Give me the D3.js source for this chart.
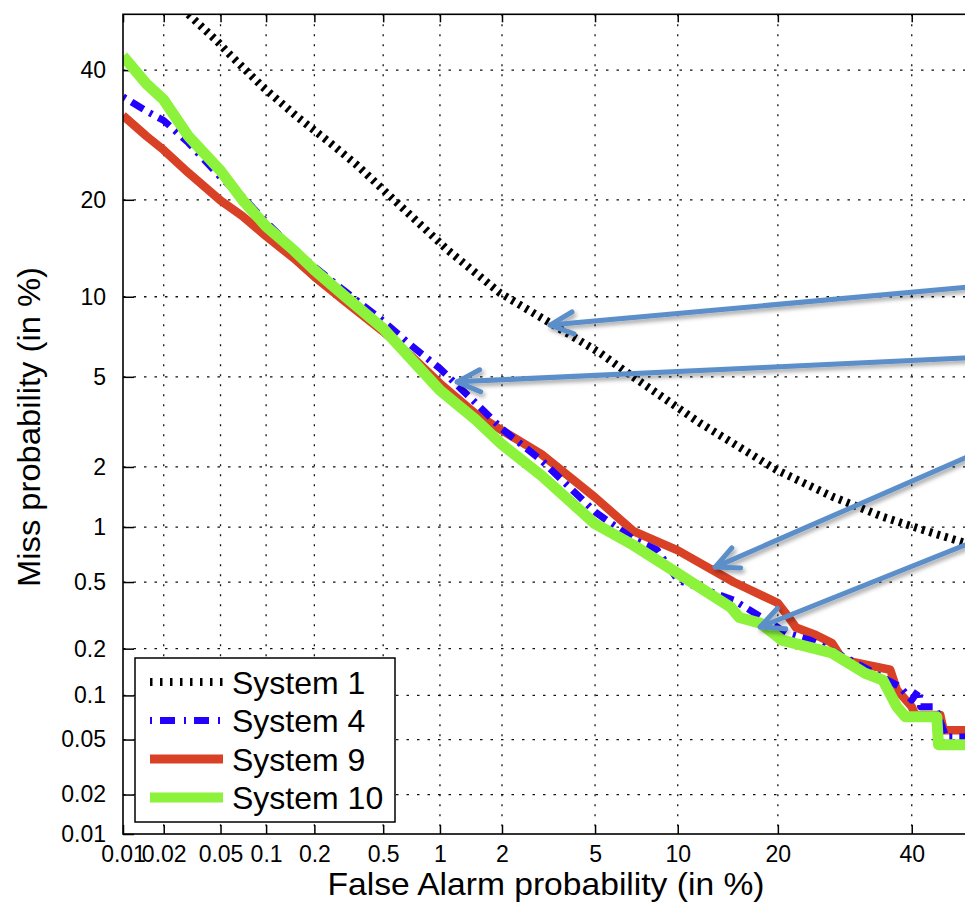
<!DOCTYPE html>
<html>
<head>
<meta charset="utf-8">
<script src="https://cdn.jsdelivr.net/npm/d3@7"></script>
<style>
  body { margin: 0; background: #fff; }
  svg { display: block; font-family: "Liberation Sans", Arial, sans-serif; }
</style>
</head>
<body>
<div id="chart"></div>
<script>
// tick positions (in %) shared by both axes
const tickPct = [0.01, 0.02, 0.05, 0.1, 0.2, 0.5, 1, 2, 5, 10, 20, 40];
const tickLabels = ['0.01', '0.02', '0.05', '0.1', '0.2', '0.5', '1', '2', '5', '10', '20', '40'];

// System 1 (black dotted)
const sys1FA   = [0.03, 0.048, 0.058, 0.095, 0.157, 0.248, 0.356, 0.48, 1.085, 1.96, 3.27, 5.23, 6.97, 9.19, 11.8, 14.9, 19.9, 27.4, 35.2, 43.6, 50];
const sys1Miss = [50, 45, 42.7, 37.1, 32.1, 28, 24.7, 21.7, 14.3, 10.3, 8.07, 6.22, 5.0, 4.0, 3.19, 2.59, 1.93, 1.43, 1.13, 0.93, 0.81];

// System 4 (blue dash-dot)
const sys4FA   = [0.01, 0.015, 0.02, 0.03, 0.05, 0.07, 0.1, 0.15, 0.2, 0.3, 0.5, 0.7, 1, 1.5, 2, 3, 5, 7, 8.5, 10, 15, 21.1, 24.2, 30, 38.0, 40.0, 41.2, 41.5, 44.0, 45.9, 50];
const sys4Miss = [35.4, 33, 31.5, 28, 23.0, 20.4, 17.3, 14.3, 12.6, 10.5, 8.2, 6.7, 5.4, 3.9, 3.0, 2.15, 1.2, 0.86, 0.754, 0.514, 0.394, 0.25, 0.226, 0.17, 0.114, 0.093, 0.109, 0.084, 0.084, 0.052, 0.052];

// System 9 (red)
const sys9FA   = [0.01, 0.015, 0.02, 0.03, 0.05, 0.07, 0.1, 0.15, 0.2, 0.3, 0.5, 0.7, 1, 1.5, 2, 3, 5, 7, 10, 15, 20, 21.4, 22.3, 25, 27.3, 28.9, 36.4, 37.5, 40.0, 40.6, 44.9, 45.5, 50];
const sys9Miss = [32.3, 29, 26.9, 23.6, 19.9, 18, 15.7, 13.4, 11.7, 9.7, 7.5, 6.1, 4.7, 3.5, 2.95, 2.3, 1.42, 0.95, 0.75, 0.5, 0.378, 0.31, 0.27, 0.243, 0.217, 0.17, 0.147, 0.109, 0.084, 0.074, 0.074, 0.058, 0.058];

// System 10 (green)
const sys10FA   = [0.01, 0.015, 0.02, 0.03, 0.05, 0.07, 0.1, 0.15, 0.2, 0.3, 0.5, 0.7, 1, 1.5, 2, 3, 5, 7, 10, 14.7, 15.6, 17.9, 20.5, 27.3, 32.3, 35.2, 37.5, 38.9, 44.3, 44.6, 50];
const sys10Miss = [42.5, 37.6, 34.9, 29, 23.9, 20, 16.8, 14.2, 12.3, 10.1, 7.7, 5.95, 4.4, 3.3, 2.55, 1.82, 1.04, 0.8, 0.56, 0.358, 0.31, 0.287, 0.226, 0.188, 0.14, 0.126, 0.084, 0.072, 0.072, 0.046, 0.046];

const seriesNames = ['System 1', 'System 4', 'System 9', 'System 10'];

// annotation arrows (tail on the right, tip on a curve), in %
const arrowTipFA    = [3.27, 1.22, 13.2, 17.9];
const arrowTipMiss  = [7.93, 4.77, 0.607, 0.272];
const arrowTailFA   = [50, 50, 50, 50];
const arrowTailMiss = [10.8, 5.96, 2.25, 0.82];

// inverse normal CDF (Acklam) -> DET axes are on a normal-deviate scale
function probit(p) {
  const a = [-39.69683028665376, 220.9460984245205, -275.9285104469687, 138.3577518672690, -30.66479806614716, 2.506628277459239];
  const b = [-54.47609879822406, 161.5858368580409, -155.6989798598866, 66.80131188771972, -13.28068155288572];
  const c = [-0.007784894002430293, -0.3223964580411365, -2.400758277161838, -2.549732539343734, 4.374664141464968, 2.938163982698783];
  const d = [0.007784695709041462, 0.3224671290700398, 2.445134137142996, 3.754408661907416];
  const lo = 0.02425;
  if (p < lo) {
    const q = Math.sqrt(-2 * Math.log(p));
    return (((((c[0] * q + c[1]) * q + c[2]) * q + c[3]) * q + c[4]) * q + c[5]) /
      ((((d[0] * q + d[1]) * q + d[2]) * q + d[3]) * q + 1);
  }
  if (p <= 1 - lo) {
    const q = p - 0.5, r = q * q;
    return (((((a[0] * r + a[1]) * r + a[2]) * r + a[3]) * r + a[4]) * r + a[5]) * q /
      (((((b[0] * r + b[1]) * r + b[2]) * r + b[3]) * r + b[4]) * r + 1);
  }
  return -probit(1 - p);
}

const W = 965, H = 902;
const margin = { top: 14.3, left: 123 };
const innerW = 846.4, innerH = 819.7;

const svg = d3.select('#chart').append('svg')
  .attr('width', W).attr('height', H)
  .attr('viewBox', `0 0 ${W} ${H}`);

const defs = svg.append('defs');
defs.append('clipPath').attr('id', 'plotclip')
  .append('rect').attr('width', innerW).attr('height', innerH);
const shadow = defs.append('filter').attr('id', 'shadow')
  .attr('x', '-10%').attr('y', '-50%').attr('width', '120%').attr('height', '200%');
shadow.append('feDropShadow').attr('dx', 2).attr('dy', 3).attr('stdDeviation', 2)
  .attr('flood-color', '#000').attr('flood-opacity', 0.35);
defs.append('marker').attr('id', 'arrowhead')
  .attr('markerUnits', 'userSpaceOnUse')
  .attr('viewBox', '-30 -17 34 34').attr('refX', 0).attr('refY', 0)
  .attr('markerWidth', 34).attr('markerHeight', 34).attr('orient', 'auto')
  .append('path').attr('d', 'M-23,-11L0,0L-23,11')
  .attr('fill', 'none').attr('stroke', '#5b8fc9').attr('stroke-width', 5)
  .attr('stroke-linecap', 'round').attr('stroke-linejoin', 'round');

const g = svg.append('g').attr('transform', `translate(${margin.left},${margin.top})`);

const zMin = probit(0.0001);
const x = d3.scaleLinear().domain([zMin, 0]).range([0, innerW]);
const y = d3.scaleLinear().domain([zMin, 0]).range([innerH, 0]);
const px = (p) => x(probit(p / 100));
const py = (p) => y(probit(p / 100));
const tickZ = tickPct.map((p) => probit(p / 100));

// dotted grid
g.selectAll('.vgrid').data(tickPct.slice(1)).join('line')
  .attr('x1', px).attr('x2', px).attr('y1', 0).attr('y2', innerH)
  .attr('stroke', '#111').attr('stroke-width', 1.3).attr('stroke-dasharray', '2,8');
g.selectAll('.hgrid').data(tickPct.slice(1)).join('line')
  .attr('y1', py).attr('y2', py).attr('x1', 0).attr('x2', innerW)
  .attr('stroke', '#111').attr('stroke-width', 1.3).attr('stroke-dasharray', '2.5,8');

// axes with inward ticks
const xAxisG = g.append('g').attr('transform', `translate(0,${innerH})`)
  .call(d3.axisBottom(x).tickValues(tickZ).tickFormat((d, i) => tickLabels[i])
    .tickSizeInner(-9).tickSizeOuter(0).tickPadding(12));
const topAxisG = g.append('g')
  .call(d3.axisTop(x).tickValues(tickZ).tickFormat(() => '')
    .tickSizeInner(-8).tickSizeOuter(0));
const yAxisG = g.append('g')
  .call(d3.axisLeft(y).tickValues(tickZ).tickFormat((d, i) => tickLabels[i])
    .tickSizeInner(-11).tickSizeOuter(0).tickPadding(17));
[xAxisG, topAxisG, yAxisG].forEach((ax) => {
  ax.select('.domain').remove();
  ax.selectAll('line').attr('stroke', '#000').attr('stroke-width', 1.5);
  ax.selectAll('text').attr('fill', '#000').attr('font-size', 23)
    .attr('font-family', '"Liberation Sans", Arial, sans-serif');
});

// curves
const line = d3.line().x((d) => px(d[0])).y((d) => py(d[1]));
const curves = g.append('g').attr('clip-path', 'url(#plotclip)');

const series = [
  { name: seriesNames[0], fa: sys1FA, miss: sys1Miss, color: '#000', width: 8, dash: '3,5' },
  { name: seriesNames[2], fa: sys9FA, miss: sys9Miss, color: '#d94126', width: 8.5, dash: null },
  { name: seriesNames[1], fa: sys4FA, miss: sys4Miss, color: '#2400ff', width: 7, dash: '3,7,14,7' },
  { name: seriesNames[3], fa: sys10FA, miss: sys10Miss, color: '#8cf23c', width: 11, dash: null }
];
series.forEach((s) => {
  const path = curves.append('path')
    .attr('d', line(d3.zip(s.fa, s.miss)))
    .attr('fill', 'none')
    .attr('stroke', s.color)
    .attr('stroke-width', s.width)
    .attr('stroke-linejoin', 'round');
  if (s.dash) path.style('stroke-dasharray', s.dash);
});

// frame
g.append('rect').attr('width', innerW).attr('height', innerH)
  .attr('fill', 'none').attr('stroke', '#000').attr('stroke-width', 1.6);

// legend
const legendStyles = [
  { color: '#000', width: 8, dash: '2.5,7.5' },
  { color: '#2400ff', width: 7, dash: '2,8,15,9' },
  { color: '#d94126', width: 9, dash: 'none' },
  { color: '#8cf23c', width: 10, dash: 'none' }
];
const legend = svg.append('g').attr('transform', 'translate(135,658)');
legend.append('rect').attr('width', 260).attr('height', 164)
  .attr('fill', '#fff').attr('stroke', '#000').attr('stroke-width', 1.5);
const rows = legend.selectAll('.row').data(seriesNames).join('g')
  .attr('transform', (d, i) => `translate(0,${24 + i * 38.5})`);
rows.append('line').attr('x1', 15).attr('x2', 88).attr('y1', 0).attr('y2', 0)
  .style('stroke', (d, i) => legendStyles[i].color)
  .style('stroke-width', (d, i) => legendStyles[i].width + 'px')
  .style('stroke-dasharray', (d, i) => legendStyles[i].dash);
rows.append('text').attr('x', 97).attr('dy', '0.36em')
  .attr('font-size', 32).attr('fill', '#000').text((d) => d);

// axis titles
svg.append('text').attr('x', 546).attr('y', 895)
  .attr('text-anchor', 'middle').attr('font-size', 32).attr('fill', '#000')
  .attr('textLength', 437).attr('lengthAdjust', 'spacingAndGlyphs')
  .text('False Alarm probability (in %)');
svg.append('text').attr('transform', 'translate(40,427) rotate(-90)')
  .attr('text-anchor', 'middle').attr('font-size', 32).attr('fill', '#000')
  .attr('textLength', 320).attr('lengthAdjust', 'spacingAndGlyphs')
  .text('Miss probability (in %)');

// annotation arrows
const arrows = d3.range(arrowTipFA.length).map((i) => [
  [arrowTailFA[i], arrowTailMiss[i]], [arrowTipFA[i], arrowTipMiss[i]]
]);
g.append('g').attr('filter', 'url(#shadow)')
  .selectAll('path').data(arrows).join('path')
  .attr('d', line)
  .attr('fill', 'none').attr('stroke', '#5b8fc9').attr('stroke-width', 5)
  .attr('stroke-linecap', 'round')
  .attr('marker-end', 'url(#arrowhead)');
</script>
</body>
</html>
